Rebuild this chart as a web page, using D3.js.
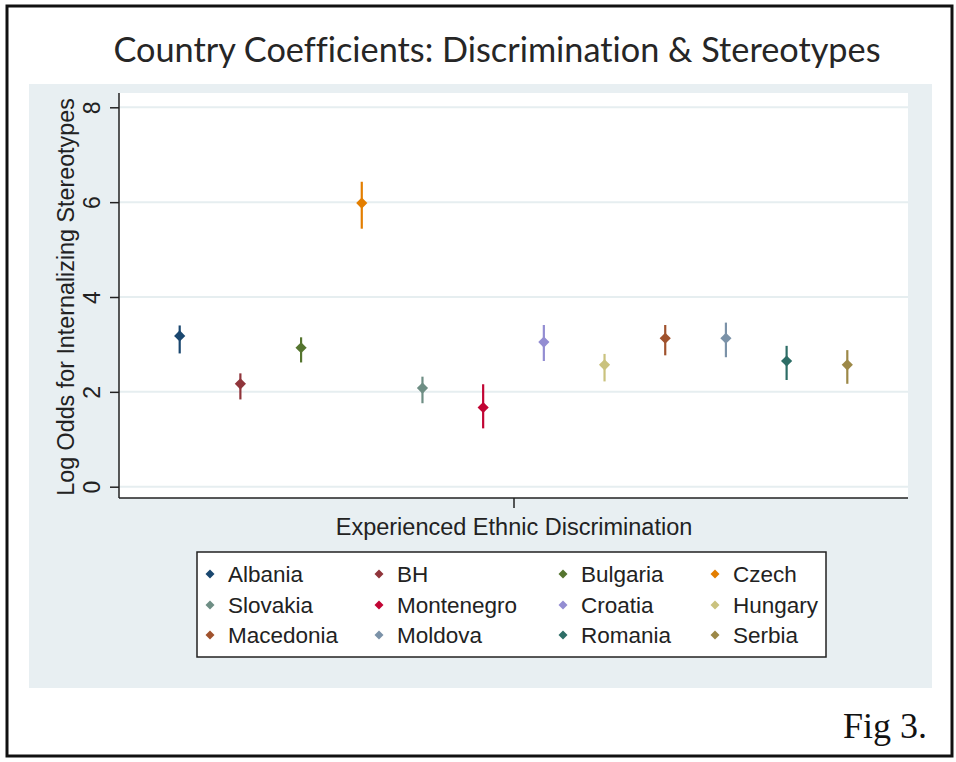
<!DOCTYPE html>
<html>
<head>
<meta charset="utf-8">
<script src="https://cdn.jsdelivr.net/npm/d3@7"></script>
<style>
  html, body { margin: 0; padding: 0; background: #ffffff; }
  svg { display: block; }
  text { font-variant-ligatures: none; font-feature-settings: "liga" 0, "clig" 0; }
</style>
</head>
<body>
<svg id="chart" width="956" height="762"></svg>
<script>
// Country coefficients with 95% confidence bounds
const countries = ["Albania", "BH", "Bulgaria", "Czech", "Slovakia", "Montenegro",
                   "Croatia", "Hungary", "Macedonia", "Moldova", "Romania", "Serbia"];
const coef   = [3.18, 2.17, 2.93, 5.98, 2.08, 1.67, 3.05, 2.57, 3.13, 3.13, 2.65, 2.57];
const ciLow  = [2.81, 1.84, 2.62, 5.44, 1.76, 1.23, 2.65, 2.22, 2.77, 2.73, 2.25, 2.17];
const ciHigh = [3.40, 2.39, 3.15, 6.43, 2.32, 2.16, 3.41, 2.80, 3.41, 3.46, 2.97, 2.88];
const colors = ["#1a476f", "#90353b", "#55752f", "#e37e00", "#6e8e84", "#c10534",
                "#938dd2", "#cac27e", "#a0522d", "#7b92a8", "#2d6d66", "#9c8847"];
const yTicks = [0, 2, 4, 6, 8];
const legendOrder = countries; // 4 columns, row-major

const svg = d3.select("#chart");

// outer frame
svg.append("rect").attr("x", 7).attr("y", 6).attr("width", 945).attr("height", 750)
  .attr("fill", "#ffffff").attr("stroke", "#111").attr("stroke-width", 3);

// title
svg.append("text")
  .attr("x", 497).attr("y", 62)
  .attr("text-anchor", "middle")
  .attr("font-family", "Lato, 'Open Sans', sans-serif")
  .attr("font-size", 35)
  .attr("fill", "#262626")
  .attr("textLength", 767).attr("lengthAdjust", "spacingAndGlyphs")
  .text("Country Coefficients: Discrimination & Stereotypes");

// graph region
svg.append("rect").attr("x", 29).attr("y", 84).attr("width", 903).attr("height", 604)
  .attr("fill", "#e8eff2");

// plot region
const plot = { left: 119, right: 908, top: 93, bottom: 498 };
svg.append("rect").attr("x", plot.left).attr("y", plot.top)
  .attr("width", plot.right - plot.left).attr("height", plot.bottom - plot.top)
  .attr("fill", "#ffffff");

const y = d3.scaleLinear().domain([0, 8]).range([486.7, 107.3]);
const x = d3.scalePoint().domain(countries).range([plot.left, plot.right]).padding(1);

// gridlines
svg.append("g").selectAll("line").data(yTicks).join("line")
  .attr("x1", plot.left).attr("x2", plot.right)
  .attr("y1", d => y(d)).attr("y2", d => y(d))
  .attr("stroke", "#e6eef0").attr("stroke-width", 2);

// y axis
const yAxis = svg.append("g").attr("transform", `translate(${plot.left},0)`)
  .call(d3.axisLeft(y).tickValues(yTicks).tickSize(9).tickPadding(0).tickFormat(d3.format("d")));
yAxis.select(".domain").remove();
yAxis.selectAll(".tick line").attr("stroke", "#222").attr("stroke-width", 1.5);
yAxis.selectAll(".tick text")
  .attr("font-family", "'Liberation Sans', Arial, sans-serif")
  .attr("font-size", 23).attr("fill", "#222")
  .attr("text-anchor", "middle")
  .attr("x", null).attr("dy", null)
  .attr("transform", "translate(-27,0) rotate(-90)")
  .attr("dominant-baseline", "central");
svg.append("line").attr("x1", plot.left).attr("x2", plot.left)
  .attr("y1", plot.top).attr("y2", plot.bottom)
  .attr("stroke", "#222").attr("stroke-width", 1.5);

// x axis with a single centered tick
const xAxisScale = d3.scaleLinear().domain([0, 1]).range([plot.left, plot.right]);
const xAxis = svg.append("g").attr("transform", `translate(0,${plot.bottom})`)
  .call(d3.axisBottom(xAxisScale).tickValues([0.5]).tickSize(10).tickFormat(""));
xAxis.select(".domain").attr("stroke", "#222").attr("stroke-width", 1.5)
  .attr("d", `M${plot.left},0H${plot.right}`);
xAxis.selectAll(".tick line").attr("stroke", "#222").attr("stroke-width", 1.5);

// axis titles
svg.append("text")
  .attr("x", 514).attr("y", 535)
  .attr("text-anchor", "middle")
  .attr("font-family", "'Liberation Sans', Arial, sans-serif")
  .attr("font-size", 23.5).attr("fill", "#222")
  .text("Experienced Ethnic Discrimination");
svg.append("text")
  .attr("transform", `translate(74,${(y(0) + y(8)) / 2}) rotate(-90)`)
  .attr("text-anchor", "middle")
  .attr("font-family", "'Liberation Sans', Arial, sans-serif")
  .attr("font-size", 23.3).attr("fill", "#222")
  .text("Log Odds for Internalizing Stereotypes");

// confidence intervals and point estimates
const rows = countries.map((c, i) => ({ c, v: coef[i], lo: ciLow[i], hi: ciHigh[i], col: colors[i] }));
const marks = svg.append("g");
marks.selectAll("line").data(rows).join("line")
  .attr("x1", d => x(d.c)).attr("x2", d => x(d.c))
  .attr("y1", d => y(d.lo)).attr("y2", d => y(d.hi))
  .attr("stroke", d => d.col).attr("stroke-width", 2.2);
const diamond = d3.symbol().type(d3.symbolDiamond2).size(80);
marks.selectAll("path").data(rows).join("path")
  .attr("d", diamond)
  .attr("transform", d => `translate(${x(d.c)},${y(d.v)})`)
  .attr("fill", d => d.col);

// legend
const legend = svg.append("g");
legend.append("rect").attr("x", 197).attr("y", 552).attr("width", 629).attr("height", 105)
  .attr("fill", "#ffffff").attr("stroke", "#222").attr("stroke-width", 1.5);
const colX = [210, 379, 563, 715];
const rowY = [574, 605, 635];
const legSym = d3.symbol().type(d3.symbolDiamond2).size(52);
legendOrder.forEach((c, i) => {
  const cx = colX[i % 4], cy = rowY[Math.floor(i / 4)];
  legend.append("path").attr("d", legSym)
    .attr("transform", `translate(${cx},${cy})`)
    .attr("fill", colors[countries.indexOf(c)]);
  legend.append("text")
    .attr("x", cx + 18).attr("y", cy)
    .attr("dominant-baseline", "central")
    .attr("font-family", "'Liberation Sans', Arial, sans-serif")
    .attr("font-size", 22.5).attr("fill", "#222")
    .text(c);
});

// figure label
svg.append("text")
  .attr("x", 927).attr("y", 738)
  .attr("text-anchor", "end")
  .attr("font-family", "'Liberation Serif', 'Times New Roman', serif")
  .attr("font-size", 36).attr("fill", "#111")
  .text("Fig 3.");
</script>
</body>
</html>
